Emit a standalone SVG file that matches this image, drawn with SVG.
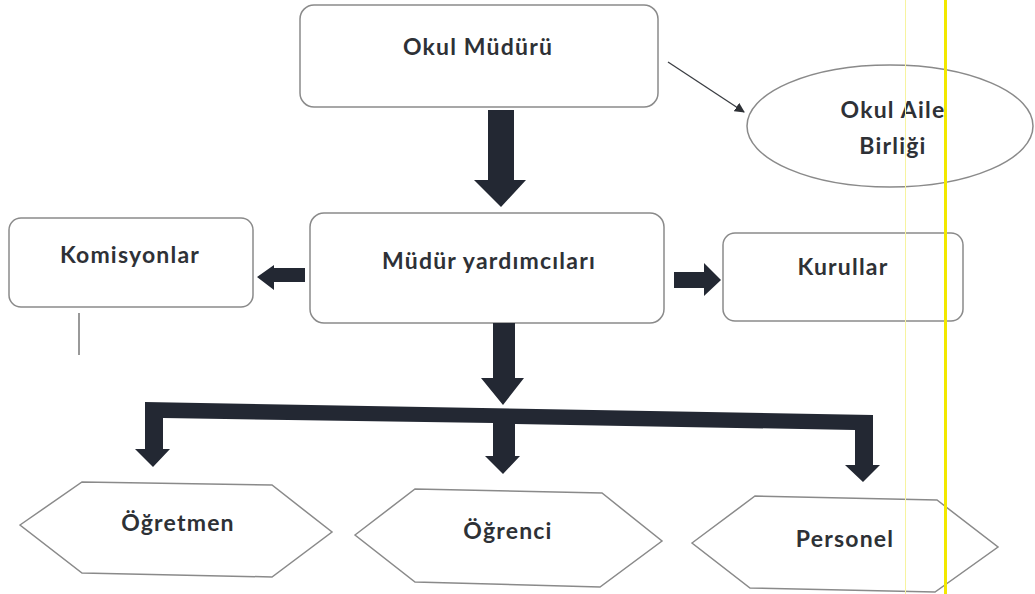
<svg xmlns="http://www.w3.org/2000/svg" width="1035" height="594" viewBox="0 0 1035 594">
<style>
.box{fill:#fff;stroke:#8a8a8a;stroke-width:1.5}
.lbl{font-family:Lato,"Liberation Sans",sans-serif;font-weight:700;font-size:23px;letter-spacing:1.2px;fill:#2e3136;text-anchor:middle}
.arr{fill:#232833}
</style>
<defs>
<marker id="thinhead" viewBox="0 0 10 10" refX="9" refY="5" markerWidth="10" markerHeight="10" markerUnits="userSpaceOnUse" orient="auto">
<path d="M0,0 L10,5 L0,10 z" fill="#2e3136"/>
</marker>
</defs>
<rect width="1035" height="594" fill="#ffffff"/>
<g id="okul-muduru">
<rect class="box" x="300" y="5" width="358" height="102" rx="14"/>
<text class="lbl" x="478" y="55">Okul Müdürü</text>
</g>
<g id="okul-aile-birligi">
<ellipse class="box" cx="890" cy="126" rx="143" ry="61"/>
<text class="lbl" x="893" y="118">Okul Aile</text>
<text class="lbl" x="893" y="154">Birliği</text>
</g>
<g id="mudur-yardimcilari">
<rect class="box" x="310" y="213" width="354" height="110" rx="14"/>
<text class="lbl" x="489" y="269">Müdür yardımcıları</text>
</g>
<g id="komisyonlar">
<rect class="box" x="9" y="218" width="244" height="89" rx="12"/>
<text class="lbl" x="130" y="263">Komisyonlar</text>
</g>
<g id="kurullar">
<rect class="box" x="723" y="233" width="240" height="88" rx="12"/>
<text class="lbl" x="843" y="275">Kurullar</text>
</g>
<g id="ogretmen">
<polygon class="box" points="20,525 82,482 272,485 332,532 272,577 82,573"/>
<text class="lbl" x="178" y="531">Öğretmen</text>
</g>
<g id="ogrenci">
<polygon class="box" points="355,535 415,489 602,493 662,541 600,587 415,582"/>
<text class="lbl" x="508" y="539">Öğrenci</text>
</g>
<g id="personel">
<polygon class="box" points="692,543 755,496 937,500 998,547 935,592 750,588"/>
<text class="lbl" x="845" y="547">Personel</text>
</g>
<g id="connectors">
<line x1="668" y1="62" x2="744" y2="112" stroke="#3a3d42" stroke-width="1.3" marker-end="url(#thinhead)"/>
<polygon class="arr" points="488,110 514,110 514,180 526,180 501,207 474,180 488,180"/>
<polygon class="arr" points="305,268 305,282 274,282 274,290 257,277 274,265 274,268"/>
<polygon class="arr" points="674,272 704,272 704,263 721,280 704,296 704,288 674,288"/>
<line x1="79" y1="313" x2="79" y2="355" stroke="#555" stroke-width="1.2"/>
<polygon class="arr" points="493,323 515,323 515,378 524,378 503,405 481,378 493,378"/>
<polygon class="arr" points="145,402 873,415 873,465 880,465 863,482 845,465 855,465 855,430 515,424 515,456 520,456 503,474 485,456 493,456 493,423 163,418 163,449 170,449 153,467 135,449 145,449"/>
</g>
<rect x="944" y="0" width="3" height="594" fill="#f2e800"/>
<rect x="905" y="0" width="1" height="594" fill="#f7f3a0"/>
</svg>
